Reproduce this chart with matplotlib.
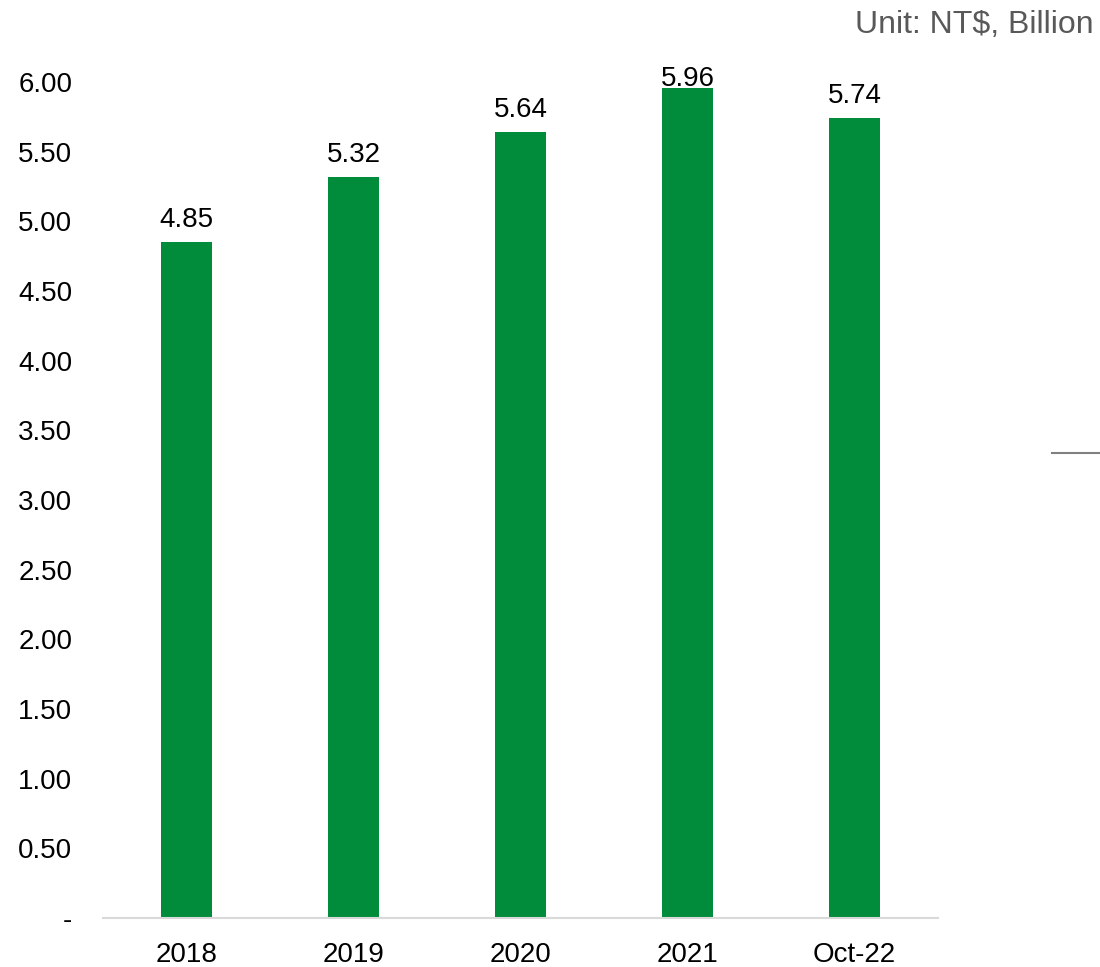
import numpy as np
import matplotlib.pyplot as plt
from matplotlib.lines import Line2D

plt.rcParams['font.family'] = ['Liberation Sans', 'DejaVu Sans']

# data
kategooriad = ['2018', '2019', '2020', '2021', 'Oct-22']
vaartused = [4.85, 5.32, 5.64, 5.96, 5.74]
y_ticks = [0, 0.5, 1.0, 1.5, 2.0, 2.5, 3.0, 3.5, 4.0, 4.5, 5.0, 5.5, 6.0]
y_labels = ['-'] + [f'{v:.2f}' for v in y_ticks[1:]]

fig = plt.figure(figsize=(11, 9.67), dpi=100)
ax = fig.add_axes([0.0936, 0.0507, 0.7591, 0.8645])

x = np.arange(len(kategooriad))
ax.bar(x, vaartused, width=0.31, color='#008C3A')

# silt ei tohi minna joonise ülaservast välja (nagu Excelis)
for xi, v in zip(x, vaartused):
    ax.text(xi, min(v + 0.065, 5.93), f'{v:.2f}', ha='center', va='bottom',
            fontsize=20, color='black', clip_on=False)

ax.set_xlim(-0.5, len(kategooriad) - 0.5)
ax.set_ylim(0, 6)
ax.set_xticks(x)
ax.set_xticklabels(kategooriad, fontsize=20)
ax.set_yticks(y_ticks)
ax.set_yticklabels(y_labels, fontsize=20)
ax.tick_params(axis='y', length=0, pad=22)
ax.tick_params(axis='x', length=0, pad=17)

for s in ['top', 'right', 'left']:
    ax.spines[s].set_visible(False)
ax.spines['bottom'].set_color('#D9D9D9')
ax.spines['bottom'].set_linewidth(1.5)

fig.text(0.994, 0.974, 'Unit: NT$, Billion', ha='right', va='center',
         fontsize=23, color='#595959')

# lühike hall joon paremal
fig.add_artist(Line2D([1052 / 1100, 1.0], [1 - 453 / 967, 1 - 453 / 967],
                      color='#808080', linewidth=1.5))

plt.savefig('out.png', dpi=100)
